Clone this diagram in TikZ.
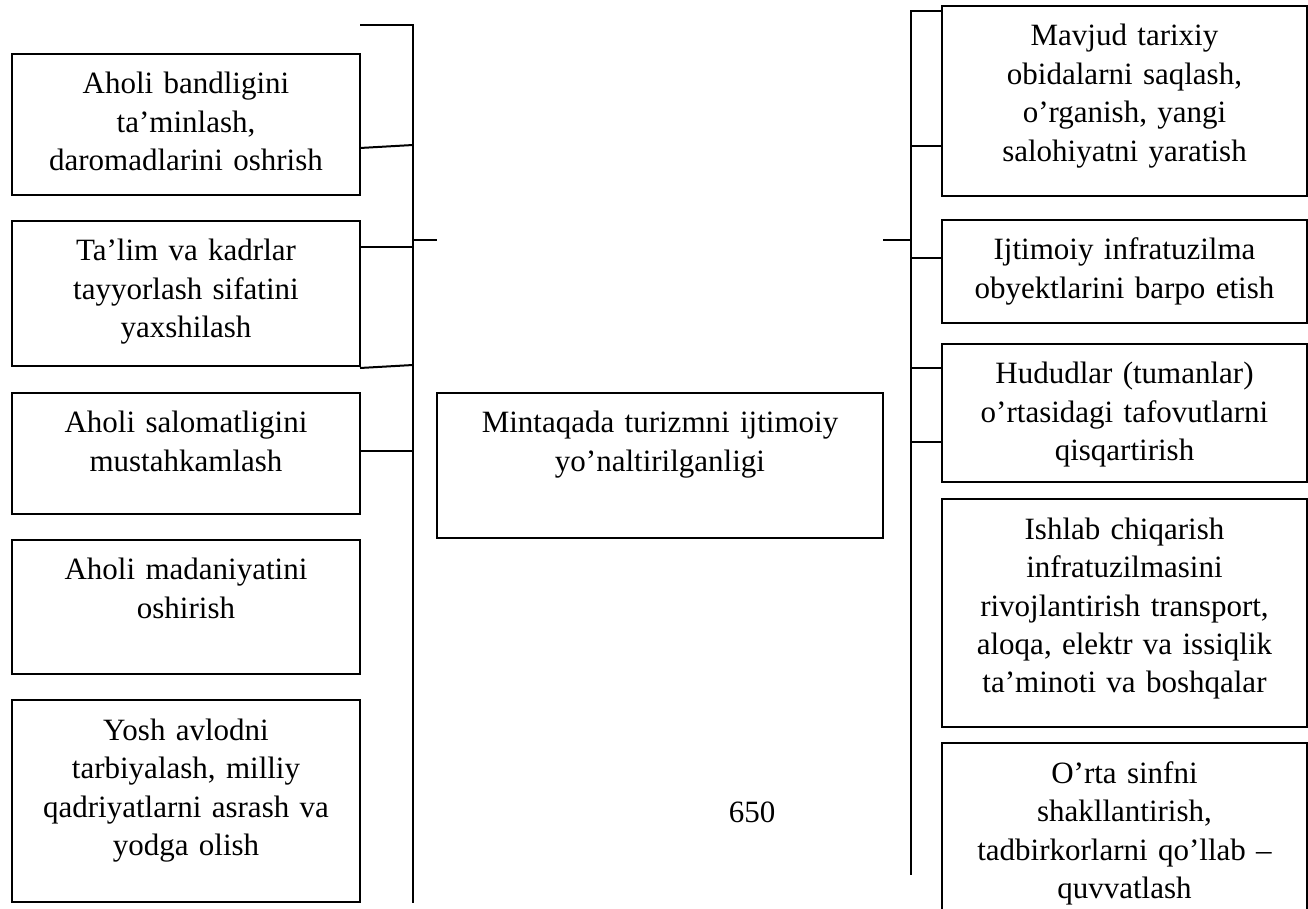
\documentclass[tikz,border=0pt]{standalone}
\usepackage{fontspec}
\setmainfont{Liberation Serif}
\usetikzlibrary{positioning}

\begin{document}
\begin{tikzpicture}[x=0.5pt, y=-0.5pt, node distance=13pt,
  every node/.style={font=\fontsize{15.5pt}{19.25pt}\selectfont},
  blok/.style={draw, line width=1pt, align=center, inner sep=0pt, outer sep=0pt, text height=20pt},
  chap/.style={blok, text width=174pt},
  ong/.style={blok, text width=182.5pt},
  bog/.style={line width=1pt},
  shina/.style={line width=1.4pt}]
  \useasboundingbox (0,0) rectangle (1308,909);
  % chap ustun
  \node[chap, text depth=50.5pt, anchor=north west] (L1) at (12,54) {Aholi bandligini\\ ta’minlash,\\ daromadlarini oshrish};
  \node[chap, text depth=52.5pt, below=of L1] (L2) {Ta’lim va kadrlar\\ tayyorlash sifatini\\ yaxshilash};
  \node[chap, text depth=40.5pt, below=13.5pt of L2] (L3) {Aholi salomatligini\\ mustahkamlash};
  \node[chap, text depth=47pt, below=of L3] (L4) {Aholi madaniyatini\\ oshirish};
  \node[chap, text depth=81pt, below=of L4] (L5) {Yosh avlodni\\ tarbiyalash, milliy\\ qadriyatlarni asrash va\\ yodga olish};
  % markaz
  \node[blok, text width=223pt, text depth=52.5pt, anchor=north west] (markaz) at (437,393) {Mintaqada turizmni ijtimoiy\\ yo’naltirilganligi};
  % o'ng ustun
  \node[ong, text depth=75pt, anchor=north west] (R1) at (942,6) {Mavjud tarixiy\\ obidalarni saqlash,\\ o’rganish, yangi\\ salohiyatni yaratish};
  \node[ong, text depth=31.5pt, below=12pt of R1] (R2) {Ijtimoiy infratuzilma\\ obyektlarini barpo etish};
  \node[ong, text depth=49pt, below=10.5pt of R2] (R3) {Hududlar (tumanlar)\\ o’rtasidagi tafovutlarni\\ qisqartirish};
  \node[ong, text depth=94pt, below=8.5pt of R3] (R4) {Ishlab chiqarish\\ infratuzilmasini\\ rivojlantirish transport,\\ aloqa, elektr va issiqlik\\ ta’minoti va boshqalar};
  \node[ong, text depth=65pt, below=8pt of R4] (R5) {O’rta sinfni\\ shakllantirish,\\ tadbirkorlarni qo’llab –\\ quvvatlash};
  \node (bet) at (752,812) {650};

  % shinalar
  \coordinate (lbus) at (413,25);
  \coordinate (rbus) at (911,11);
  \draw[shina] (L1.east |- lbus) -- (lbus) -- (413,903);
  \draw[shina] (R1.west |- rbus) -- (rbus) -- (911,875);
  \draw[bog] (L1.east |- 0,148) -- (lbus |- 0,145);
  \draw[bog] (L2.east |- 0,247) -- (lbus |- 0,247);
  \draw[bog] (L2.east |- 0,368) -- (lbus |- 0,365);
  \draw[bog] (L3.east |- 0,451) -- (lbus |- 0,451);
  \draw[bog] (lbus |- 0,240) -- (markaz.west |- 0,240);
  \draw[bog] (markaz.east |- 0,240) -- (rbus |- 0,240);
  \foreach \y in {146,258,368,442}
    \draw[bog] (rbus |- 0,\y) -- (R1.west |- 0,\y);
\end{tikzpicture}
\end{document}
